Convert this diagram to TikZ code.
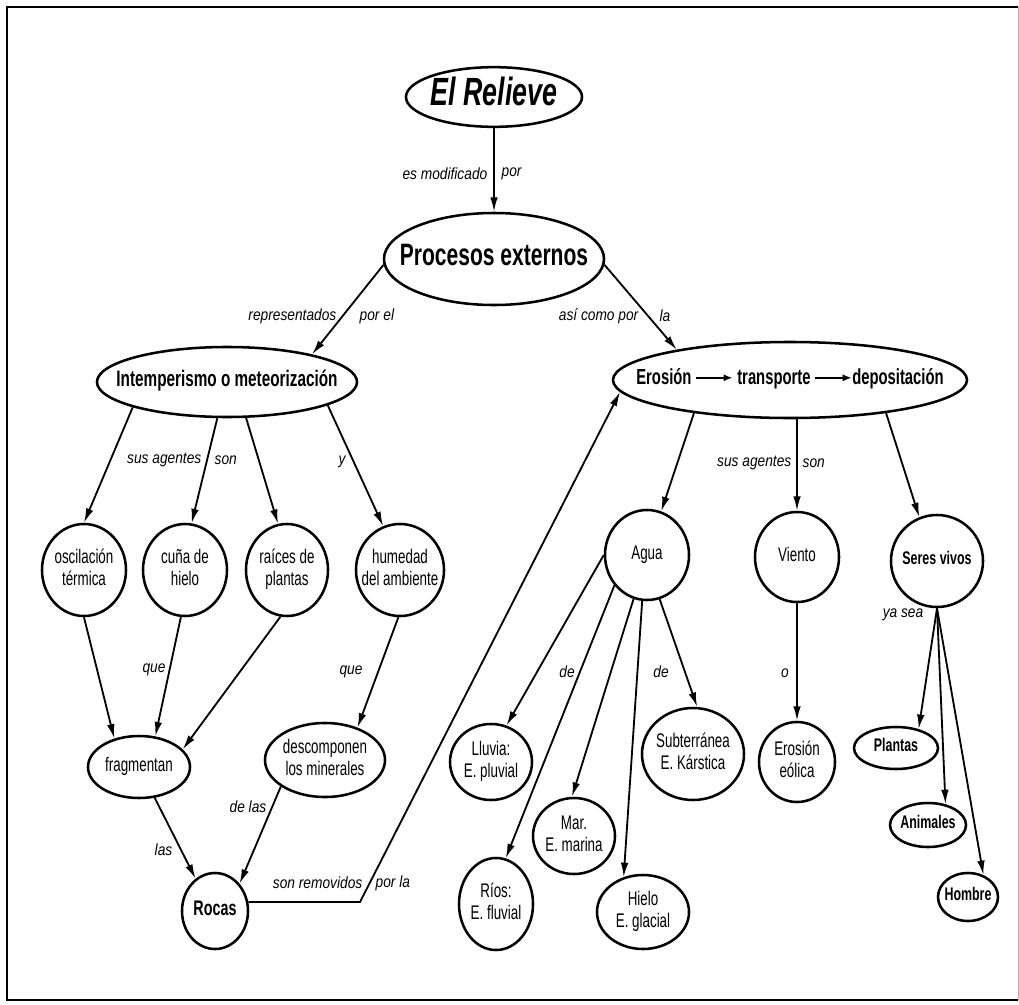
\documentclass[tikz,border=0pt]{standalone}
\usepackage{fontspec}
\setmainfont{Liberation Sans}[FakeStretch=0.85]
\newfontfamily\estrecha{Liberation Sans}[FakeStretch=0.68]
\usetikzlibrary{shapes.geometric,arrows.meta}

% flecha dentro del texto
\newcommand{\flecha}{\tikz[baseline=-0.6ex]\draw[line width=1.1pt,-{Latex[length=2.2mm,width=1.8mm]}] (0,0) -- (0.9cm,0);}
\newcommand{\centrado}[1]{\makebox[0pt]{\begin{tabular}{@{}c@{}}#1\end{tabular}}}

\tikzset{
  concepto/.style={draw, ellipse, line width=1.8pt, inner sep=0pt,
    font=\estrecha\fontsize{14}{16}\selectfont},
  fuerte/.style={font=\estrecha\bfseries\fontsize{#1}{#1}\selectfont},
  enlace/.style={line width=1.3pt, -{Latex[length=3.6mm,width=1.9mm]}},
  palabra/.style={font=\itshape\fontsize{11.5}{13}\selectfont, inner sep=1pt}
}

\begin{document}
\begin{tikzpicture}[x=0.025cm,y=-0.025cm]
  \useasboundingbox (0,0) rectangle (1019,1005);
  % marco
  \draw[line width=1.2pt] (1018,7) -- (7,7) -- (7,1000) -- (1018,1000);
  \draw[gray!60] (1018,7) -- (1018,1000);

  % conceptos de arriba
  \node[concepto, font=\estrecha\bfseries\itshape\fontsize{28}{30}\selectfont,
    minimum width=4.4cm, minimum height=1.4cm] (relieve) at (494,97) {\centrado{El Relieve}};
  \node[concepto, fuerte=22, minimum width=5.5cm, minimum height=2.3cm] (procesos) at (494,259) {\centrado{Procesos externos}};
  \node[concepto, fuerte=16, minimum width=6.5cm, minimum height=1.75cm] (intemp) at (227,382) {\centrado{Intemperismo o meteorización}};
  \node[concepto, fuerte=15.5, minimum width=8.85cm, minimum height=1.9cm] (erosion) at (790,380)
    {\centrado{Erosión \flecha{} transporte \flecha depositación}};

  % agentes del intemperismo
  \node[concepto, minimum width=2.1cm, minimum height=2.3cm] (osc) at (84,570) {\centrado{oscilación\\térmica}};
  \node[concepto, minimum width=2.1cm, minimum height=2.3cm] (cuna) at (185,570) {\centrado{cuña de\\hielo}};
  \node[concepto, minimum width=2.05cm, minimum height=2.3cm] (raices) at (287,570) {\centrado{raíces de\\plantas}};
  \node[concepto, minimum width=2.2cm, minimum height=2.3cm] (humedad) at (400,570) {\centrado{humedad\\del ambiente}};
  \node[concepto, minimum width=2.55cm, minimum height=1.55cm] (frag) at (139,767) {\centrado{fragmentan}};
  \node[concepto, minimum width=3cm, minimum height=1.85cm] (desc) at (325,760) {\centrado{descomponen\\los minerales}};
  \node[concepto, fuerte=15, minimum width=1.65cm, minimum height=1.9cm] (rocas) at (215,911) {\centrado{Rocas}};

  % agentes de la erosion
  \node[concepto, minimum width=2.1cm, minimum height=2.25cm] (agua) at (647,555) {\centrado{Agua}};
  \node[concepto, minimum width=2.1cm, minimum height=2.25cm] (viento) at (797,557) {\centrado{Viento}};
  \node[concepto, fuerte=13, minimum width=2.3cm, minimum height=2.3cm] (seres) at (937,561) {\centrado{Seres vivos}};
  \node[concepto, minimum width=2.05cm, minimum height=1.9cm] (lluvia) at (491,762) {\centrado{Lluvia:\\E. pluvial}};
  \node[concepto, minimum width=1.85cm, minimum height=2.3cm] (rios) at (496,904) {\centrado{Ríos:\\E. fluvial}};
  \node[concepto, minimum width=2.05cm, minimum height=1.9cm] (mar) at (574,836) {\centrado{Mar.\\E. marina}};
  \node[concepto, minimum width=2.3cm, minimum height=1.85cm] (hielo) at (643,912) {\centrado{Hielo\\E. glacial}};
  \node[concepto, minimum width=2.55cm, minimum height=2.3cm] (subt) at (693,754) {\centrado{Subterránea\\E. Kárstica}};
  \node[concepto, minimum width=1.9cm, minimum height=2cm] (eolica) at (797,762) {\centrado{Erosión\\eólica}};
  \node[concepto, fuerte=13, minimum width=2.1cm, minimum height=1.05cm] (plantas) at (896,748) {\centrado{Plantas}};
  \node[concepto, fuerte=13, minimum width=1.9cm, minimum height=1.1cm] (animales) at (928,825) {\centrado{Animales}};
  \node[concepto, fuerte=13, minimum width=1.5cm, minimum height=1.2cm] (hombre) at (968,897) {\centrado{Hombre}};

  % enlaces de arriba
  \draw[enlace] (relieve) -- (procesos);
  \node[palabra, anchor=east] (p1) at (489,174) {es modificado};
  \node[palabra, anchor=west] (p2) at (500,174) {por};
  \draw[enlace] (procesos.183) -- (intemp.18);
  \node[palabra, anchor=east] (p3) at (338,316) {representados};
  \node[palabra, anchor=west] (p4) at (358,316) {por el};
  \draw[enlace] (procesos.-3) -- (erosion.165);
  \node[palabra, anchor=east] (p5) at (640,316) {así como por};
  \node[palabra, anchor=west] (p6) at (658,316) {la};

  % intemperismo
  \draw[enlace] (intemp.195) -- (osc.north);
  \draw[enlace] (intemp.255) -- (cuna.82);
  \draw[enlace] (intemp.298) -- (raices.101);
  \draw[enlace] (intemp.347) -- (humedad.111);
  \node[palabra, anchor=east] (p7) at (203,460) {sus agentes};
  \node[palabra, anchor=west] (p8) at (213,460) {son};
  \node[palabra] (p9) at (342,462) {y};

  \draw[enlace] (osc.south) -- (frag.131);
  \draw[enlace] (cuna.265) -- (frag.62);
  \draw[enlace] (raices.262) -- (frag.22);
  \node[palabra] (p10) at (154,670) {que};
  \draw[enlace] (humedad.268) -- (desc.45);
  \node[palabra] (p11) at (351,672) {que};

  \draw[enlace] (frag.297) -- (rocas.121);
  \node[palabra, anchor=east] (p12) at (174,850) {las};
  \draw[enlace] (desc.211) -- (rocas.48);
  \node[palabra, anchor=east] (p13) at (268,807) {de las};

  % las rocas van a la erosion
  \coordinate (quiebre) at (360,902);
  \draw[enlace] (rocas.15) -- (rocas.15 -| quiebre) -- (erosion.184);
  \node[palabra, anchor=east] (p14) at (364,883) {son removidos};
  \node[palabra, anchor=west] (p15) at (374,883) {por la};

  % erosion
  \draw[enlace] (erosion.199) -- (agua.72);
  \draw[enlace] (viento.north |- erosion.south) -- (viento);
  \draw[enlace] (erosion.-19) -- (seres.112);
  \node[palabra, anchor=east] (p16) at (793,463) {sus agentes};
  \node[palabra, anchor=west] (p17) at (801,463) {son};

  \draw[enlace] (agua.180) -- (lluvia.67);
  \draw[enlace] (agua.223) -- (rios.78);
  \draw[enlace] (agua.253) -- (mar.93);
  \draw[enlace] (agua.264) -- (hielo.119);
  \draw[enlace] (agua.286) -- (subt.85);
  \node[palabra] (p18) at (567,672) {de};
  \node[palabra] (p19) at (661,672) {de};

  \draw[enlace] (viento) -- (eolica);
  \node[palabra] (p20) at (785,673) {o};

  \draw[enlace] (seres.south) -- (plantas.40);
  \draw[enlace] (seres.south) -- (animales.50);
  \draw[enlace] (seres.south) -- (hombre.55);
  \node[palabra] (p21) at (903,615) {ya sea};
\end{tikzpicture}
\end{document}
